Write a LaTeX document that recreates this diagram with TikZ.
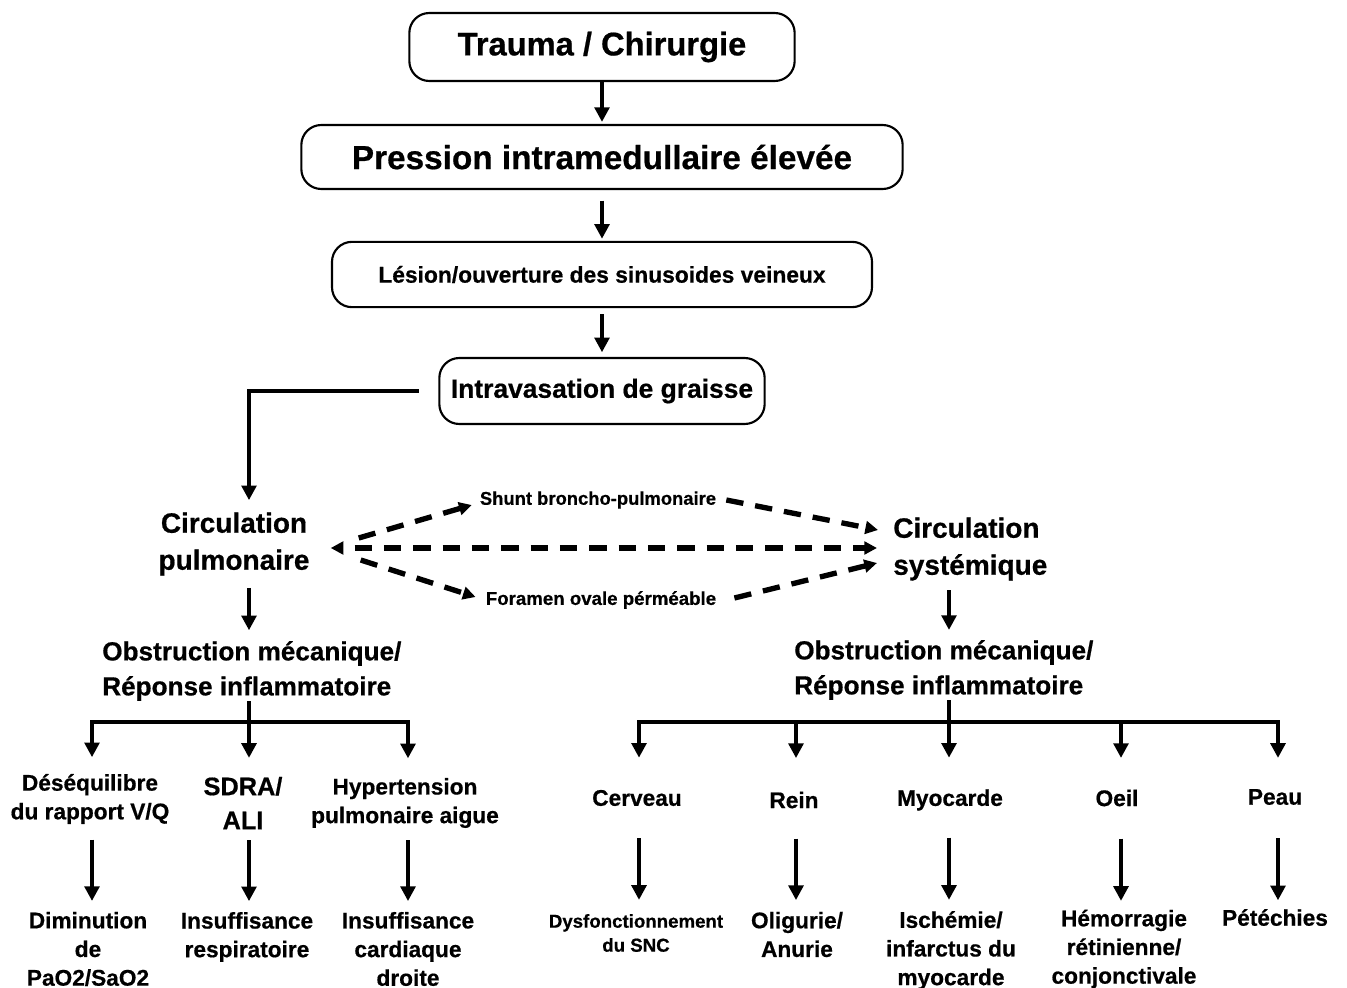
\documentclass[tikz,border=0pt]{standalone}
\usepackage{fontspec}
\setmainfont{Liberation Sans}[BoldFeatures={FakeBold=0.6}]
\usetikzlibrary{arrows.meta}
\tikzset{
  box/.style={draw, line width=1.6pt, rounded corners=15pt, align=center, inner sep=0pt},
  lab/.style={align=center, inner sep=0pt, font=\bfseries\fontsize{17pt}{21.5pt}\selectfont},
  labl/.style={align=left, inner sep=0pt, anchor=west},
  arr/.style={line width=3pt, -{Triangle[length=11pt,width=11pt]}},
  tline/.style={line width=3pt},
  darr/.style={line width=4pt, dash pattern=on 13pt off 9pt, -{Triangle[length=9.5pt,width=9.5pt]}},
}
\begin{document}
\begin{tikzpicture}[x=0.75pt,y=-0.75pt]
\useasboundingbox (0,0) rectangle (1347,988);
\fill[white] (0,0) rectangle (1347,988);

% top chain
\node[box, minimum width=289pt, minimum height=51pt, font=\bfseries\fontsize{24.5pt}{28pt}\selectfont] (t1) at (602,47) {Trauma / Chirurgie};
\node[box, minimum width=451pt, minimum height=48pt, font=\bfseries\fontsize{25pt}{28pt}\selectfont] (t2) at (602,157) {Pression intramedullaire élevée};
\node[box, minimum width=405pt, minimum height=49pt, font=\bfseries\fontsize{17.1pt}{20pt}\selectfont] (t3) at (602,274.5) {Lésion/ouverture des sinusoides veineux};
\node[box, minimum width=244pt, minimum height=49.5pt, font=\bfseries\fontsize{19.8pt}{22pt}\selectfont] (t4) at (602,391) {Intravasation de graisse};

\draw[arr, shorten >=1.5pt] (t1.south) -- (t2.north);
\draw[arr, shorten <=8pt, shorten >=1.5pt] (t2.south) -- (t3.north);
\draw[arr, shorten <=4.5pt, shorten >=3.5pt] (t3.south) -- (t4.north);

% circulations
\node[lab, font=\bfseries\fontsize{21pt}{27.75pt}\selectfont] (cp) at (234,544) {Circulation\\pulmonaire};
\node[labl, font=\bfseries\fontsize{21pt}{27.75pt}\selectfont] (cs) at (893,549) {Circulation\\systémique};

\draw[arr, shorten >=9pt] ([xshift=-14.6pt]t4.west) -| ([xshift=11.25pt]cp.north);

% shunts
\node[lab, font=\bfseries\fontsize{13.8pt}{16pt}\selectfont] (sh) at (598,500) {Shunt broncho-pulmonaire};
\node[lab, font=\bfseries\fontsize{14pt}{16pt}\selectfont] (fo) at (601,600) {Foramen ovale pérméable};

\draw[darr] ([shift={(49,-6)}]cp.east) -- ([shift={(-8,5)}]sh.west);
\draw[darr] ([shift={(10,0)}]sh.east) -- ([shift={(-15,-19)}]cs.west);
\draw[darr, dash phase=13pt, {Triangle[length=9.5pt,width=9.5pt]}-{Triangle[length=9.5pt,width=9.5pt]}] ([shift={(21,4)}]cp.east) -- ([shift={(-16,-1)}]cs.west);
\draw[darr] ([shift={(51,16)}]cp.east) -- ([shift={(-10,-3)}]fo.west);
\draw[darr] ([shift={(18,-2)}]fo.east) -- ([shift={(-16,14)}]cs.west);

% obstruction nodes
\node[labl, font=\bfseries\fontsize{19.6pt}{26.25pt}\selectfont] (obL) at (102,671) {Obstruction mécanique/\\Réponse inflammatoire};
\node[labl, font=\bfseries\fontsize{19.6pt}{26.25pt}\selectfont] (obR) at (794,670) {Obstruction mécanique/\\Réponse inflammatoire};

\coordinate (jL) at (249,722);
\coordinate (jR) at (949,722);
\draw[arr, shorten <=9pt, shorten >=8pt] (cp.south -| jL) -- (obL.north -| jL);
\draw[arr, shorten <=7pt, shorten >=7.5pt] (cs.south -| jR) -- (obR.north -| jR);

% left branch
\node[lab] (l1) at (90,799) {Déséquilibre\\du rapport V/Q};
\node[lab, font=\bfseries\fontsize{19pt}{25.5pt}\selectfont] (l2) at (243,803) {SDRA/\\ALI};
\node[lab] (l3) at (405,803) {Hypertension\\pulmonaire aigue};
\node[lab] (b1) at (88,949) {Diminution\\de\\PaO2/SaO2};
\node[lab] (b2) at (247,937) {Insuffisance\\respiratoire};
\node[lab] (b3) at (408,949) {Insuffisance\\cardiaque\\droite};

\coordinate (cL1) at (92,722);
\coordinate (cL3) at (408,722);
\draw[tline] (obL.south -| jL) -- (jL);
\draw[arr, shorten >=12.4pt] (jL) -| (cL1 |- l1.north);
\draw[arr, shorten >=14pt] (jL) -- (jL |- l2.north);
\draw[arr, shorten >=14.6pt] (jL) -| (cL3 |- l3.north);

\draw[arr, shorten <=11.6pt, shorten >=8pt] (cL1 |- l1.south) -- (cL1 |- b1.north);
\draw[arr, shorten <=8.2pt, shorten >=8pt] (jL |- l2.south) -- (jL |- b2.north);
\draw[arr, shorten <=9pt, shorten >=8pt] (cL3 |- l3.south) -- (cL3 |- b3.north);

% right branch
\node[lab] (r1) at (637,798) {Cerveau};
\node[lab] (r2) at (794,800) {Rein};
\node[lab] (r3) at (950,800) {Myocarde};
\node[lab] (r4) at (1117,798) {Oeil};
\node[lab] (r5) at (1275,797) {Peau};

\node[lab, font=\bfseries\fontsize{14pt}{18pt}\selectfont] (rb1) at (636,933) {Dysfonctionnement\\du SNC};
\node[lab] (rb2) at (797,934.5) {Oligurie/\\Anurie};
\node[lab] (rb3) at (951,950.5) {Ischémie/\\infarctus du\\myocarde};
\node[lab] (rb4) at (1124,949) {Hémorragie\\rétinienne/\\conjonctivale};
\node[lab] (rb5) at (1275,917.5) {Pétéchies};

\coordinate (cR1) at (639,722);
\coordinate (cR2) at (796,722);
\coordinate (cR4) at (1121,722);
\coordinate (cR5) at (1278,722);
\draw[tline] (obR.south -| jR) -- (jR);
\draw[arr, shorten >=24pt] (jR) -| (cR1 |- r1.north);
\draw[arr, shorten >=25pt] (cR2) -- (cR2 |- r2.north);
\draw[arr, shorten >=23.6pt] (jR) -- (jR |- r3.north);
\draw[arr, shorten >=23.6pt] (cR4) -- (cR4 |- r4.north);
\draw[arr, shorten >=23.2pt] (jR) -| (cR5 |- r5.north);

\draw[arr, shorten <=24pt, shorten >=10.5pt] (cR1 |- r1.south) -- (cR1 |- rb1.north);
\draw[arr, shorten <=22.5pt, shorten >=8.6pt] (cR2 |- r2.south) -- (cR2 |- rb2.north);
\draw[arr, shorten <=20pt, shorten >=8.3pt] (jR |- r3.south) -- (jR |- rb3.north);
\draw[arr, shorten <=24pt, shorten >=6.4pt] (cR4 |- r4.south) -- (cR4 |- rb4.north);
\draw[arr, shorten <=24.7pt, shorten >=6.4pt] (cR5 |- r5.south) -- (cR5 |- rb5.north);
\end{tikzpicture}
\end{document}
